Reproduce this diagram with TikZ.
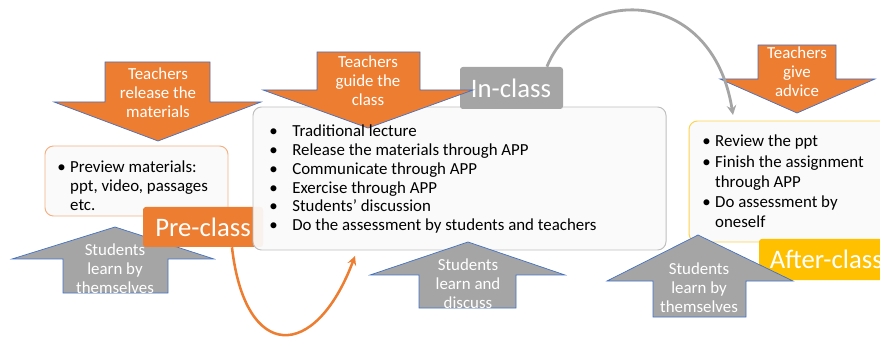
\documentclass[tikz,border=0pt]{standalone}
\usepackage{fontspec}
\setmainfont{Carlito}
\usepackage{tikz}
\usetikzlibrary{arrows, positioning, fit}
\tikzset{>=stealth}

\definecolor{orng}{HTML}{ED7D31}
\definecolor{gry}{HTML}{A5A5A5}
\definecolor{gold}{HTML}{FFC000}
\definecolor{edgeblue}{HTML}{4472C4}
\definecolor{boxbg}{HTML}{FAFAFA}
\definecolor{preline}{HTML}{F4B183}
\definecolor{inline}{HTML}{BFBFBF}
\definecolor{afterline}{HTML}{FFD34D}

\newcommand{\bul}[1]{\makebox[#1][l]{\textbullet}}

\tikzset{
  stagebox/.style={draw, fill=boxbg, rounded corners=6pt, line width=0.7pt, inner sep=0pt},
  tag/.style={rounded corners=2pt, inner sep=0pt},
  tagtext/.style={text=white, font=\fontsize{19}{22}\selectfont},
  blk/.style={draw=edgeblue, line width=0.5pt},
  arrtext/.style={text=white, align=center, inner sep=0pt, font=\fontsize{12}{13.5}\selectfont},
  listtext/.style={align=left, inner sep=0pt, anchor=north west}
}

\begin{document}
\begin{tikzpicture}[x=0.025cm, y=-0.025cm]
    \useasboundingbox (0,0) rectangle (880,340);

    % pre-class
    \draw [blk, fill=orng] (105,62)--(210,62)--(210,102)--(261,102)--(158,141)--(54,102)--(105,102)--cycle;
    \node [arrtext] (teachrel) at (158,93) {Teachers\\release the\\materials};
    \node [stagebox, draw=preline, fit={(45,146) (228,216)}] (prebox) {};
    \node [listtext, font=\fontsize{12}{13.2}\selectfont] (pretext) at (57,161)
        {\bul{9.2pt}Preview materials:\\ \hspace*{9.2pt}ppt, video, passages\\ \hspace*{9.2pt}etc.};
    \draw [blk, fill=gry] (115,227)--(214,259)--(168,259)--(168,293)--(63,293)--(63,259)--(12,259)--cycle;
    \node [arrtext] (stulearn1) at (115,269) {Students\\learn by\\themselves};
    \node [tag, fill=orng, fit={(143,207) (263,247)}] (pretag) {};
    \node [tagtext] (pretagtext) at (203,227) {Pre-class};

    % in-class
    \node [stagebox, draw=inline, fill opacity=0.93, fit={(253,107) (666,250)}] (inbox) {};
    \node [tag, fill=gry, fit={(460,67) (563,109)}] (intag) {};
    \node [tagtext] (intagtext) at (511,88) {In-class};
    \draw [blk, fill=orng] (317,52)--(420,52)--(420,90)--(473,90)--(368,128)--(263,90)--(317,90)--cycle;
    \node [arrtext] (teachguide) at (368,81) {Teachers\\guide the\\class};
    \node [listtext, font=\fontsize{12}{13.3}\selectfont] (intext) at (269,125)
        {\bul{16.4pt}Traditional lecture\\
         \bul{16.4pt}Release the materials through APP\\
         \bul{16.4pt}Communicate through APP\\
         \bul{16.4pt}Exercise through APP\\
         \bul{16.4pt}Students' discussion\\
         \bul{16.4pt}Do the assessment by students and teachers};
    \draw [blk, fill=gry] (468,242)--(565,275)--(516,275)--(516,308)--(419,308)--(419,275)--(370,275)--cycle;
    \node [arrtext] (stulearn2) at (468,284) {Students\\learn and\\discuss};

    % after-class
    \draw [blk, fill=orng] (758,45)--(836,45)--(836,79)--(875,79)--(797,113)--(720,79)--(758,79)--cycle;
    \node [arrtext] (teachadv) at (797,72) {Teachers\\give\\advice};
    \node [stagebox, draw=afterline, fit={(689,121) (910,242)}] (afterbox) {};
    \node [listtext, font=\fontsize{12}{14.4}\selectfont] (aftertext) at (702,135)
        {\bul{9.2pt}Review the ppt\\
         \bul{9.2pt}Finish the assignment\\ \hspace*{9.2pt}through APP\\
         \bul{9.2pt}Do assessment by\\ \hspace*{9.2pt}oneself};
    \node [tag, fill=gold, fit={(759,239) (920,280)}] (aftertag) {};
    \node [tagtext, anchor=west] (aftertagtext) at (765,259) {After-class};
    \draw [blk, fill=gry] (698,235)--(793,281)--(746,281)--(746,317)--(653,317)--(653,281)--(607,281)--cycle;
    \node [arrtext] (stulearn3) at (699,288) {Students\\learn by\\themselves};

    % flow between the stages
    \coordinate (inentry) at (355,256);
    \coordinate (afterentry) at (733,115);
    \draw [->, orng, line width=1.8pt] (pretag.-35) .. controls (245,362) and (315,362) .. (inentry);
    \draw [->, gry, line width=2pt] (intag.31) .. controls (580,-15) and (712,-15) .. (afterentry);
\end{tikzpicture}
\end{document}
